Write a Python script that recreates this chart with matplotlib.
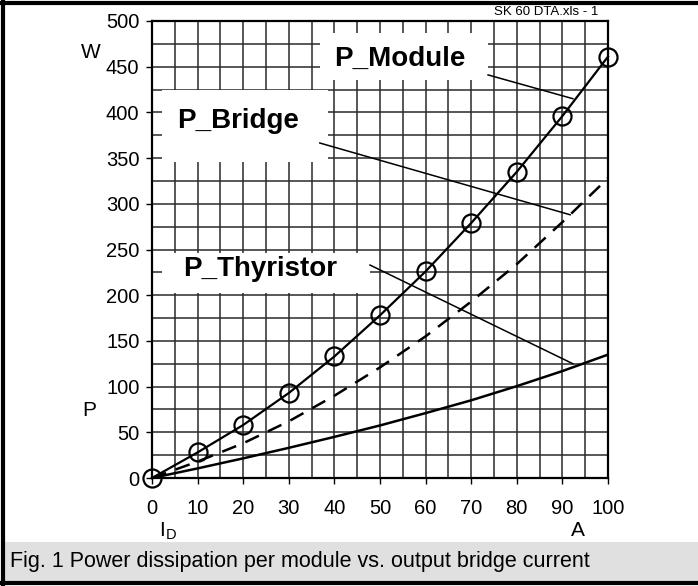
import matplotlib
matplotlib.use('Agg')
import matplotlib.pyplot as plt
from matplotlib.patches import Rectangle
from matplotlib.lines import Line2D

plt.rcParams['font.family'] = ['Liberation Sans', 'DejaVu Sans']

# Datos
corriente = [0, 10, 20, 30, 40, 50, 60, 70, 80, 90, 100]
p_module = [0, 28, 58, 93, 133, 178, 226, 279, 335, 396, 461]
p_bridge = [0, 18, 38, 62, 90, 121, 155, 193, 234, 280, 328]
p_thyristor = [0, 10.5, 21.5, 33, 45, 57.5, 71, 85, 100.5, 117, 135]
x_ticks = [0, 10, 20, 30, 40, 50, 60, 70, 80, 90, 100]
y_ticks = [0, 50, 100, 150, 200, 250, 300, 350, 400, 450, 500]

fig = plt.figure(figsize=(6.98, 5.86), dpi=100)
ax = fig.add_axes([152 / 698, 1 - 478 / 586, 456 / 698, 457 / 586])

# Rejilla
for xv in range(0, 101, 5):
    ax.axvline(xv, color='#2a2a2a', lw=1.1, zorder=1)
for yv in range(0, 501, 25):
    ax.axhline(yv, color='#2a2a2a', lw=1.1, zorder=1)

# Cajas blancas de las etiquetas
cajas = [(36.8, 435, 36.9, 52), (2.2, 346, 36.4, 78), (2.2, 202, 45.6, 44)]
for x0, y0, w, h in cajas:
    ax.add_patch(Rectangle((x0, y0), w, h, facecolor='white', edgecolor='none', zorder=2))

ax.plot(corriente, p_module, color='black', lw=1.6, marker='o', markersize=13,
        markerfacecolor='none', markeredgewidth=1.6, zorder=7, clip_on=False)
ax.plot(corriente, p_bridge, color='black', lw=1.8, ls=(0, (6, 4)), zorder=4)
ax.plot(corriente, p_thyristor, color='black', lw=1.8, zorder=4)

# Lineas guia
ax.plot([73.7, 92.3], [441, 415], color='black', lw=1.1, zorder=3)
ax.plot([36.8, 91.7], [366.5, 288], color='black', lw=1.1, zorder=3)
ax.plot([47.8, 92.3], [233, 125], color='black', lw=1.1, zorder=3)

ax.text(54.4, 459, 'P_Module', fontsize=20, fontweight='bold', ha='center', va='center', zorder=5)
ax.text(18.8, 391, 'P_Bridge', fontsize=20, fontweight='bold', ha='center', va='center', zorder=5)
ax.text(23.7, 229, 'P_Thyristor', fontsize=20, fontweight='bold', ha='center', va='center', zorder=5)

ax.set_xlim(0, 100)
ax.set_ylim(0, 500)
ax.set_xticks(x_ticks)
ax.set_yticks(y_ticks)
ax.tick_params(axis='both', labelsize=14.5, length=4, width=1, direction='out')
ax.tick_params(axis='x', pad=11)
ax.tick_params(axis='y', pad=5)
for s in ax.spines.values():
    s.set_linewidth(1.6)
    s.set_zorder(6)

fig.text(81 / 698, 1 - 53 / 586, 'W', fontsize=15, ha='left', va='center')
fig.text(82 / 698, 1 - 411 / 586, 'P', fontsize=15, ha='left', va='center')
fig.text(168 / 698, 1 - 531 / 586, r'I$_\mathregular{D}$', fontsize=15, ha='center', va='center')
fig.text(578 / 698, 1 - 531 / 586, 'A', fontsize=15, ha='center', va='center')
fig.text(598 / 698, 1 - 12 / 586, 'SK 60 DTA.xls - 1', fontsize=9.5, ha='right', va='center')

# Banda de titulo
fig.patches.append(Rectangle((5 / 698, 1 - 582 / 586), 1, 40 / 586, transform=fig.transFigure,
                             facecolor='#e0e0e0', edgecolor='none'))
fig.text(10 / 698, 1 - 562 / 586, 'Fig. 1 Power dissipation per module vs. output bridge current',
         fontsize=15.5, ha='left', va='center')

# Marco exterior
for xs, ys in [([3 / 698, 3 / 698], [0, 1]), ([0, 1], [1 - 2.5 / 586, 1 - 2.5 / 586]),
               ([0, 1], [3 / 586, 3 / 586])]:
    fig.lines.append(Line2D(xs, ys, transform=fig.transFigure, color='black', lw=3))

fig.savefig('out.png', dpi=100)
plt.close(fig)
